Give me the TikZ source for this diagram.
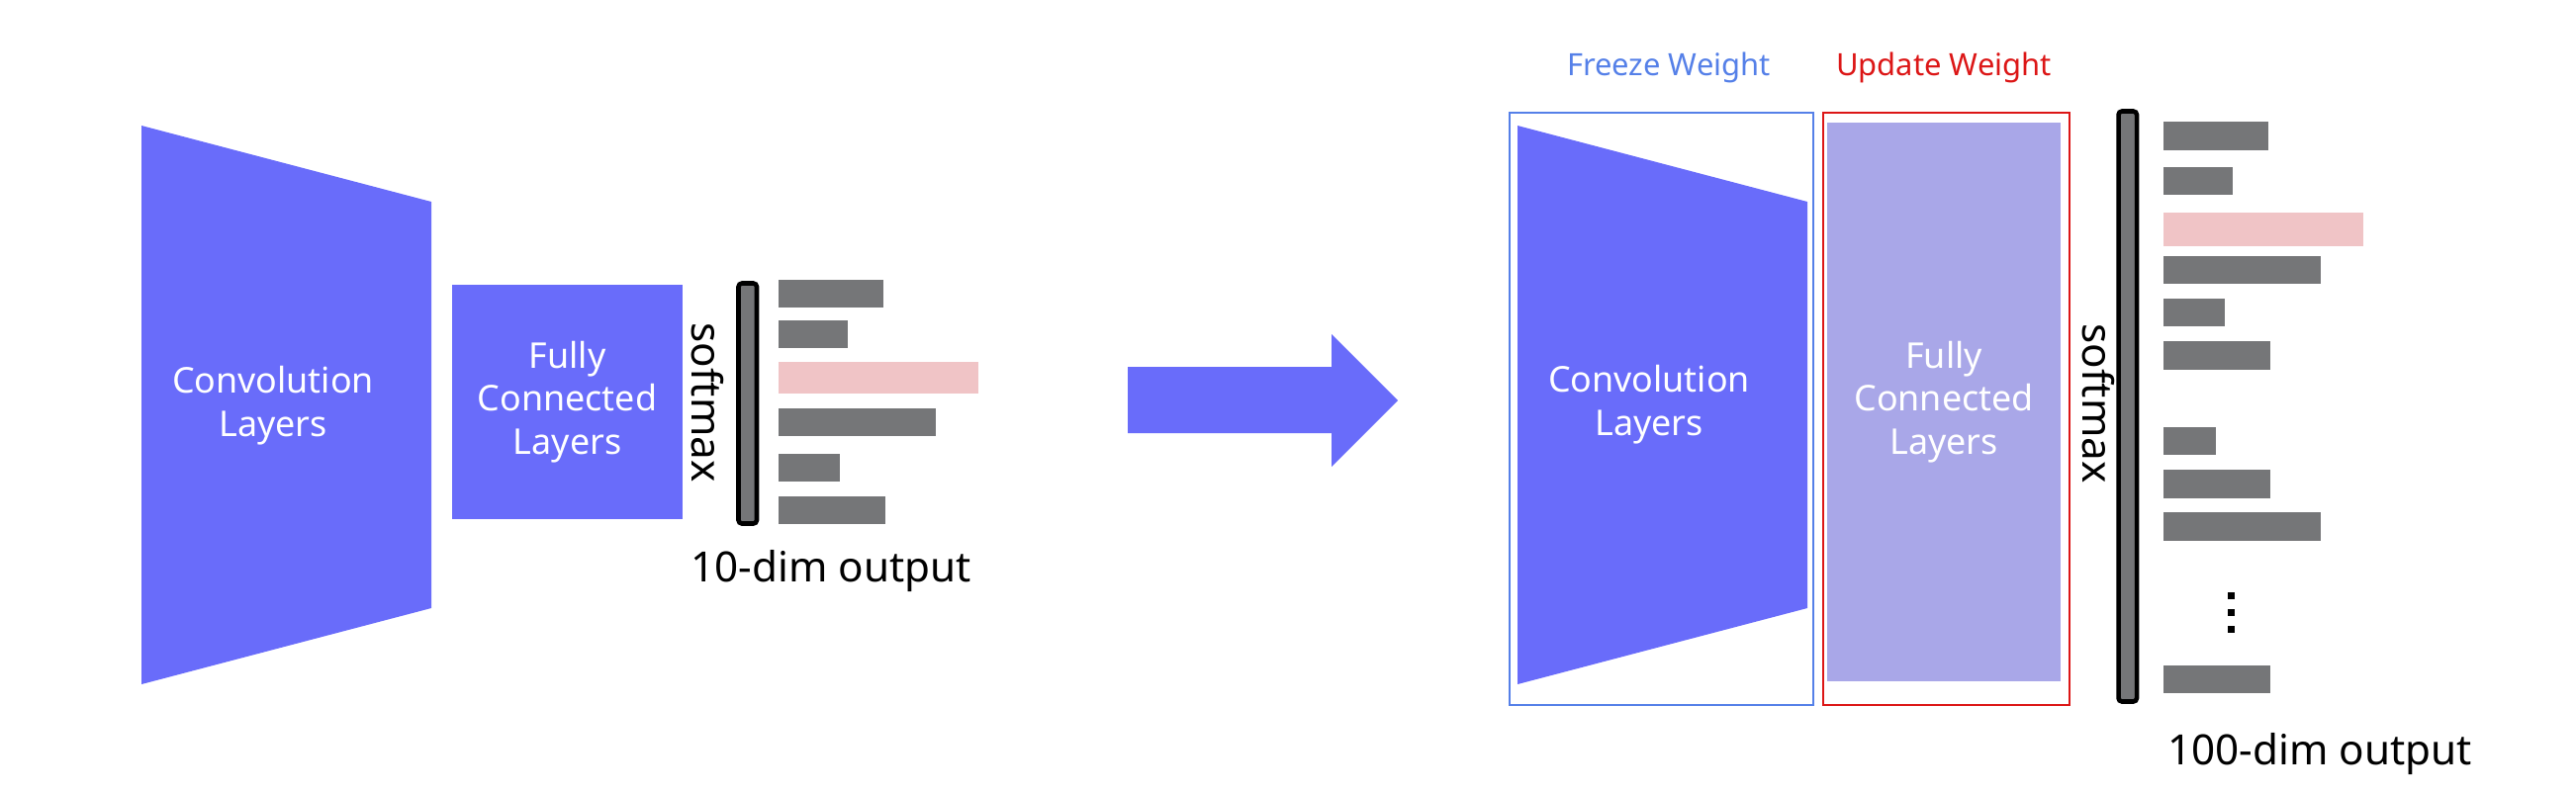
\documentclass[tikz,border=0pt]{standalone}
\usepackage{fontspec}
\setmainfont{Noto Sans}
\usetikzlibrary{positioning}
\definecolor{convcolor}{RGB}{105,108,250}
\definecolor{fccolor}{RGB}{169,167,232}
\definecolor{barcolor}{RGB}{117,118,120}
\definecolor{topcolor}{RGB}{240,196,198}
\definecolor{freezecolor}{RGB}{85,128,232}
\definecolor{updatecolor}{RGB}{220,22,22}

\begin{document}
\begin{tikzpicture}[
    x=0.01cm, y=-0.01cm,
    layer/.style={fill=convcolor, draw=none},
    fcbox/.style={rectangle, inner sep=0pt, text=white, align=center, font=\fontsize{10.2}{12.4}\selectfont},
    inlabel/.style={text=white, align=center, font=\fontsize{10.2}{12.4}\selectfont},
    outlabel/.style={font=\fontsize{12}{14}\selectfont},
    smlabel/.style={rotate=-90, inner sep=0pt, font=\fontsize{12}{14}\selectfont},
    softbar/.style={fill=barcolor, draw=black, line width=1.3pt, rounded corners=1pt},
    outbar/.style={fill=barcolor},
    topbar/.style={fill=topcolor},
    weightlabel/.style={font=\fontsize{8.8}{10}\selectfont}
]
\useasboundingbox (0,0) rectangle (2604,802);

% Original network
\fill[layer] (143,127) -- (436,204) -- (436,615) -- (143,692) -- cycle;
\node[inlabel] (conv_left) at (276,410) {Convolution\\Layers};

\node[fcbox, fill=convcolor, minimum width=2.33cm, minimum height=2.37cm] (fc_left) at (573.5,406.5) {Fully\\Connected\\Layers};

\draw[softbar] (746.5,286.5) rectangle (765,529.5);
\node[smlabel] (soft_left) at (715,407) {softmax};

% 10 outputs
\fill[outbar] (787,283) rectangle (893,311);
\fill[outbar] (787,324) rectangle (857,352);
\fill[topbar] (787,366) rectangle (989,398);
\fill[outbar] (787,413) rectangle (946,441);
\fill[outbar] (787,459) rectangle (849,487);
\fill[outbar] (787,502) rectangle (895,530);

\node[outlabel, anchor=base] (out_left) at (840,588) {10-dim output};

% Transfer arrow
\fill[layer] (1140,371) -- (1346,371) -- (1346,338) -- (1413,405) -- (1346,472) -- (1346,438) -- (1140,438) -- cycle;

% Transferred network
\draw[freezecolor, line width=0.6pt] (1526,114) rectangle (1833,713);
\node[weightlabel, text=freezecolor] (freeze) at (1687,68) {Freeze Weight};

\fill[layer] (1534,127) -- (1827,204) -- (1827,615) -- (1534,692) -- cycle;
\node[inlabel] (conv_right) at (1667,409) {Convolution\\Layers};

\draw[updatecolor, line width=0.6pt] (1843,114) rectangle (2092,713);
\node[weightlabel, text=updatecolor] (update) at (1965,68) {Update Weight};

\node[fcbox, fill=fccolor, minimum width=2.35cm, minimum height=5.65cm] (fc_right) at (1965,406.5) {Fully\\Connected\\Layers};

\draw[softbar] (2141.5,112.5) rectangle (2160,709.5);
\node[smlabel] (soft_right) at (2121,408) {softmax};

% 100 outputs
\fill[outbar] (2187,123) rectangle (2293,152);
\fill[outbar] (2187,169) rectangle (2257,197);
\fill[topbar] (2187,215) rectangle (2389,249);
\fill[outbar] (2187,259) rectangle (2346,287);
\fill[outbar] (2187,302) rectangle (2249,330);
\fill[outbar] (2187,345) rectangle (2295,374);
\fill[outbar] (2187,432) rectangle (2240,460);
\fill[outbar] (2187,475) rectangle (2295,504);
\fill[outbar] (2187,518) rectangle (2346,547);
\fill[black] (2252,599) rectangle (2259,606);
\fill[black] (2252,616) rectangle (2259,623);
\fill[black] (2252,633) rectangle (2259,640);
\fill[outbar] (2187,673) rectangle (2295,701);

\node[outlabel, anchor=base] (out_right) at (2345,773) {100-dim output};

\end{tikzpicture}
\end{document}
